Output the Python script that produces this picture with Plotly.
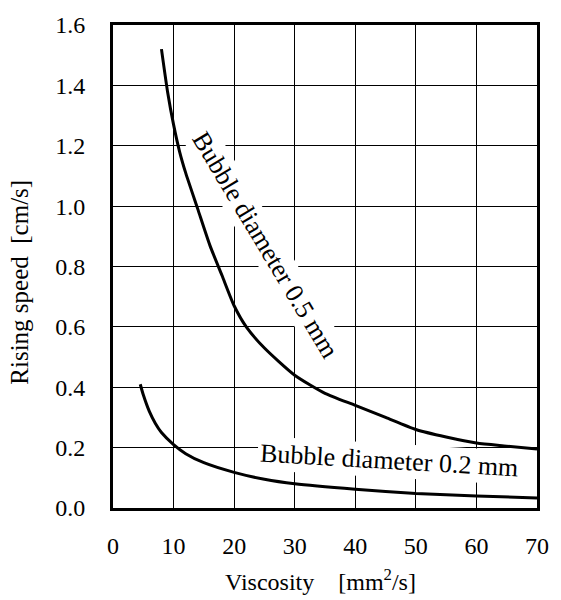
import plotly.graph_objects as go

# Bubble diameter 0.5 mm curve
visc_05 = [8, 9, 10, 11, 12, 14, 16, 18, 20, 22, 25, 30, 35, 40, 45, 50, 55, 60, 65, 70]
speed_05 = [1.52, 1.38, 1.27, 1.18, 1.11, 0.99, 0.87, 0.77, 0.67, 0.60, 0.53, 0.44, 0.38, 0.34, 0.30, 0.26, 0.235, 0.215, 0.205, 0.195]

# Bubble diameter 0.2 mm curve
visc_02 = [4.5, 5, 6, 7, 8, 10, 12, 15, 20, 25, 30, 40, 50, 60, 70]
speed_02 = [0.41, 0.375, 0.32, 0.28, 0.25, 0.21, 0.18, 0.15, 0.118, 0.095, 0.08, 0.062, 0.048, 0.04, 0.033]

x_ticks = [0, 10, 20, 30, 40, 50, 60, 70]
y_ticks = [0.0, 0.2, 0.4, 0.6, 0.8, 1.0, 1.2, 1.4, 1.6]
y_tick_labels = ["0.0", "0.2", "0.4", "0.6", "0.8", "1.0", "1.2", "1.4", "1.6"]

FONT = "Liberation Serif"

fig = go.Figure()
fig.add_trace(go.Scatter(x=visc_05, y=speed_05, mode="lines",
                         line=dict(color="black", width=3, shape="spline", smoothing=0.6),
                         showlegend=False, hoverinfo="skip"))
fig.add_trace(go.Scatter(x=visc_02, y=speed_02, mode="lines",
                         line=dict(color="black", width=3, shape="spline", smoothing=0.6),
                         showlegend=False, hoverinfo="skip"))

fig.add_annotation(x=25.1, y=0.872, text="Bubble diameter 0.5 mm", textangle=59,
                   showarrow=False, bgcolor="white", borderpad=2,
                   font=dict(family=FONT, size=26, color="black"))
fig.add_annotation(x=45.6, y=0.158, text="Bubble diameter 0.2 mm", textangle=3.3,
                   showarrow=False, bgcolor="white", borderpad=2,
                   font=dict(family=FONT, size=26, color="black"))

fig.add_annotation(xref="paper", yref="paper", x=0.49, y=-0.15, yanchor="middle",
                   text="Viscosity    [mm<sup>2</sup>/s]", showarrow=False,
                   font=dict(family=FONT, size=24, color="black"))
fig.add_annotation(xref="paper", yref="paper", x=-0.22, y=0.468, xanchor="center",
                   yanchor="middle", textangle=-90,
                   text="Rising speed  [cm/s]", showarrow=False,
                   font=dict(family=FONT, size=25, color="black"))

fig.update_xaxes(range=[0, 70], tickvals=x_ticks, showgrid=True, gridcolor="black",
                 gridwidth=1.3, showline=True, linecolor="black", linewidth=3,
                 mirror=True, ticks="", ticklabelstandoff=14, zeroline=False,
                 tickfont=dict(family=FONT, size=24, color="black"))
fig.update_yaxes(range=[0, 1.6], tickvals=y_ticks, ticktext=y_tick_labels, showgrid=True,
                 gridcolor="black", gridwidth=1.3, showline=True, linecolor="black",
                 linewidth=3, mirror=True, ticks="", ticklabelstandoff=20, zeroline=False,
                 tickfont=dict(family=FONT, size=24, color="black"))

fig.update_layout(width=561, height=600, margin=dict(l=113, r=15, t=14, b=92),
                  font=dict(family=FONT, size=24, color="black"),
                  plot_bgcolor="white", paper_bgcolor="white")

fig.write_html("out.html", config={"displayModeBar": False},
               post_script="document.body.style.margin='0';")
